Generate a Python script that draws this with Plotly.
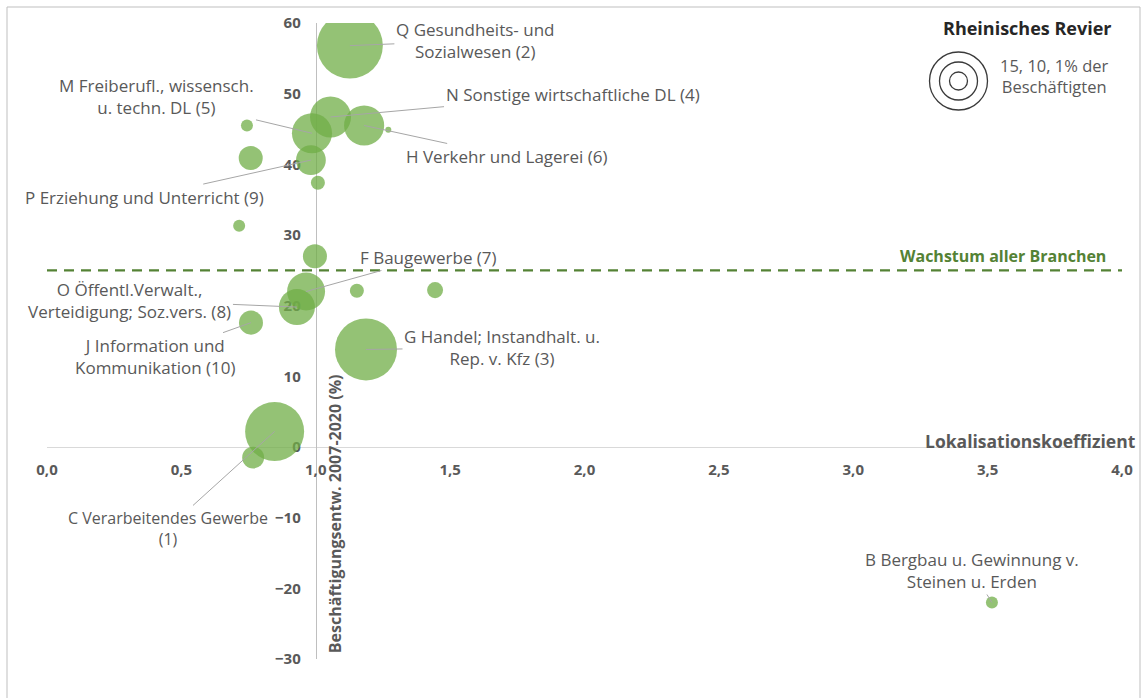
import plotly.graph_objects as go

# ---------------- data ----------------
sector_codes = ["Q", "N", "H", "M", "P", "w1", "w2", "w3", "w4", "w5",
                "w6", "F", "O", "J", "w7", "w8", "G", "C", "w9", "B"]
sector_labels = [
    "Q Gesundheits- und<br>Sozialwesen (2)",
    "N Sonstige wirtschaftliche DL (4)",
    "H Verkehr und Lagerei (6)",
    "M Freiberufl., wissensch.<br>u. techn. DL (5)",
    "P Erziehung und Unterricht (9)",
    "", "", "", "", "",
    "",
    "F Baugewerbe (7)",
    "O Öffentl.Verwalt.,<br>Verteidigung; Soz.vers. (8)",
    "J Information und<br>Kommunikation (10)",
    "", "",
    "G Handel; Instandhalt. u.<br>Rep. v. Kfz (3)",
    "C Verarbeitendes Gewerbe<br>(1)",
    "",
    "B Bergbau u. Gewinnung v.<br>Steinen u. Erden",
]
lok_koeff = [1.127, 1.055, 1.180, 0.986, 0.982, 1.008, 0.744, 0.758, 0.715, 1.270,
             0.997, 0.964, 0.930, 0.759, 1.153, 1.444, 1.187, 0.847, 0.767, 3.516]
beschaeft_entw = [56.8, 46.7, 45.5, 44.4, 40.6, 37.4, 45.5, 40.9, 31.3, 44.9,
                  27.0, 22.0, 19.8, 17.6, 22.1, 22.2, 13.8, 2.2, -1.5, -22.0]
anteil_besch = [18.1, 7.0, 6.7, 6.7, 3.7, 0.82, 0.6, 2.4, 0.6, 0.15,
                2.4, 6.0, 5.4, 2.4, 0.82, 1.07, 16.0, 14.5, 2.0, 0.6]
wachstum_alle = 25.0
x_ticks = [0, 0.5, 1.0, 1.5, 2.0, 2.5, 3.0, 3.5, 4.0]
y_ticks = [-30, -20, -10, 0, 10, 20, 30, 40, 50, 60]

# ---------------- layout helpers ----------------
W, H = 1145, 698
ML, MR, MT, MB = 47, 23, 23, 39
PW, PH = W - ML - MR, H - MT - MB


def xp(px):
    return (px - ML) / PW


def yp(py):
    return (H - MB - py) / PH


FONT = "Open Sans"
GREY = "#595959"
GREEN = "#70AD47"
DARKGREEN = "#548235"

# label offsets (pixels, text centre relative to bubble centre)
label_offsets = {
    "Q": (125, -5), "N": (242, -22), "H": (143, 31), "M": (-155, -37),
    "P": (-166, 37), "F": (122, -34), "O": (-167, -7), "J": (-95, 34),
    "G": (136, -2), "C": (-107, 97), "B": (-20, -32),
}
label_size = {"C": 16}

K = 7.75  # px radius per sqrt(share)
fig = go.Figure()
fig.add_trace(go.Scatter(
    x=lok_koeff, y=beschaeft_entw, mode="markers",
    marker=dict(size=anteil_besch, sizemode="area", sizeref=1 / (2 * K * K),
                color=GREEN, opacity=0.75, line=dict(width=0)),
    text=sector_codes, hovertemplate="%{text}: %{x:.2f}, %{y:.1f}%<extra></extra>",
    showlegend=False,
))

annotations = []
for code, lab, xv, yv in zip(sector_codes, sector_labels, lok_koeff, beschaeft_entw):
    if not lab:
        continue
    ax, ay = label_offsets[code]
    annotations.append(dict(
        x=xv, y=yv, xref="x", yref="y", text=lab, showarrow=True,
        ax=ax, ay=ay, arrowhead=0, arrowwidth=1, arrowcolor="#A6A6A6",
        standoff=0, startstandoff=0, align="center",
        font=dict(family=FONT, size=label_size.get(code, 17), color=GREY),
    ))

# axis titles and other texts
annotations += [
    dict(text="<b>Lokalisationskoeffizient</b>", x=1, xref="paper", xanchor="right",
         xshift=16, y=0, yref="y", yanchor="bottom", yshift=-8, showarrow=False,
         font=dict(family=FONT, size=17.5, color=GREY)),
    dict(text="<b>Beschäftigungsentw. 2007-2020 (%)</b>", x=1.0, xref="x", xshift=20,
         y=-9.4, yref="y", textangle=-90, showarrow=False,
         font=dict(family=FONT, size=16, color=GREY)),
    dict(text="<b>Wachstum aller Branchen</b>", x=4.0, xref="x", xanchor="right",
         xshift=-14, y=wachstum_alle, yref="y", yanchor="bottom", yshift=1,
         showarrow=False, font=dict(family=FONT, size=16, color=DARKGREEN)),
    dict(text="<b>Rheinisches Revier</b>", x=xp(1114), xref="paper", xanchor="right",
         y=yp(28), yref="paper", yanchor="middle", showarrow=False,
         font=dict(family=FONT, size=18, color="#262626")),
    dict(text="15, 10, 1% der<br>Beschäftigten", x=xp(1054), xref="paper",
         xanchor="center", y=yp(76), yref="paper", yanchor="middle",
         showarrow=False, align="center",
         font=dict(family=FONT, size=16.5, color=GREY)),
]

shapes = [
    # growth of all sectors
    dict(type="line", xref="x", yref="y", x0=0, x1=4.0, y0=wachstum_alle,
         y1=wachstum_alle, line=dict(color=DARKGREEN, width=2.2, dash="10px,7px"),
         layer="below"),
    # outer border
    dict(type="rect", xref="paper", yref="paper", x0=xp(7), x1=xp(1140),
         y0=yp(702), y1=yp(7), line=dict(color="#BFBFBF", width=1)),
]
for r in (29, 19, 9):
    shapes.append(dict(type="circle", xref="paper", yref="paper",
                       xsizemode="pixel", ysizemode="pixel",
                       xanchor=xp(958.5), yanchor=yp(81),
                       x0=-r, x1=r, y0=-r, y1=r,
                       line=dict(color="#3A3A3A", width=1.3)))

fig.update_layout(
    width=W, height=H, margin=dict(l=ML, r=MR, t=MT, b=MB, pad=0),
    paper_bgcolor="white", plot_bgcolor="white",
    separators=",.",
    font=dict(family=FONT, color=GREY),
    annotations=annotations, shapes=shapes, showlegend=False,
    xaxis=dict(range=[0, 4.0], tickvals=x_ticks, tickformat=".1f",
               showgrid=False, zeroline=False, showline=True, linecolor="#D9D9D9",
               linewidth=1, anchor="free", position=30 / 90, ticks="",
               ticklabelstandoff=9, layer="below traces",
               tickfont=dict(family=FONT, size=15, color=GREY, weight="bold")),
    yaxis=dict(range=[-30, 60], tickvals=y_ticks, showgrid=False, zeroline=False,
               showline=True, linecolor="#BFBFBF", linewidth=1, anchor="free",
               position=0.25, ticks="", ticklabelstandoff=12, layer="below traces",
               tickfont=dict(family=FONT, size=15, color=GREY, weight="bold")),
)

fig.write_html("out.html", config={"displayModeBar": False},
               post_script="document.body.style.margin='0';")
